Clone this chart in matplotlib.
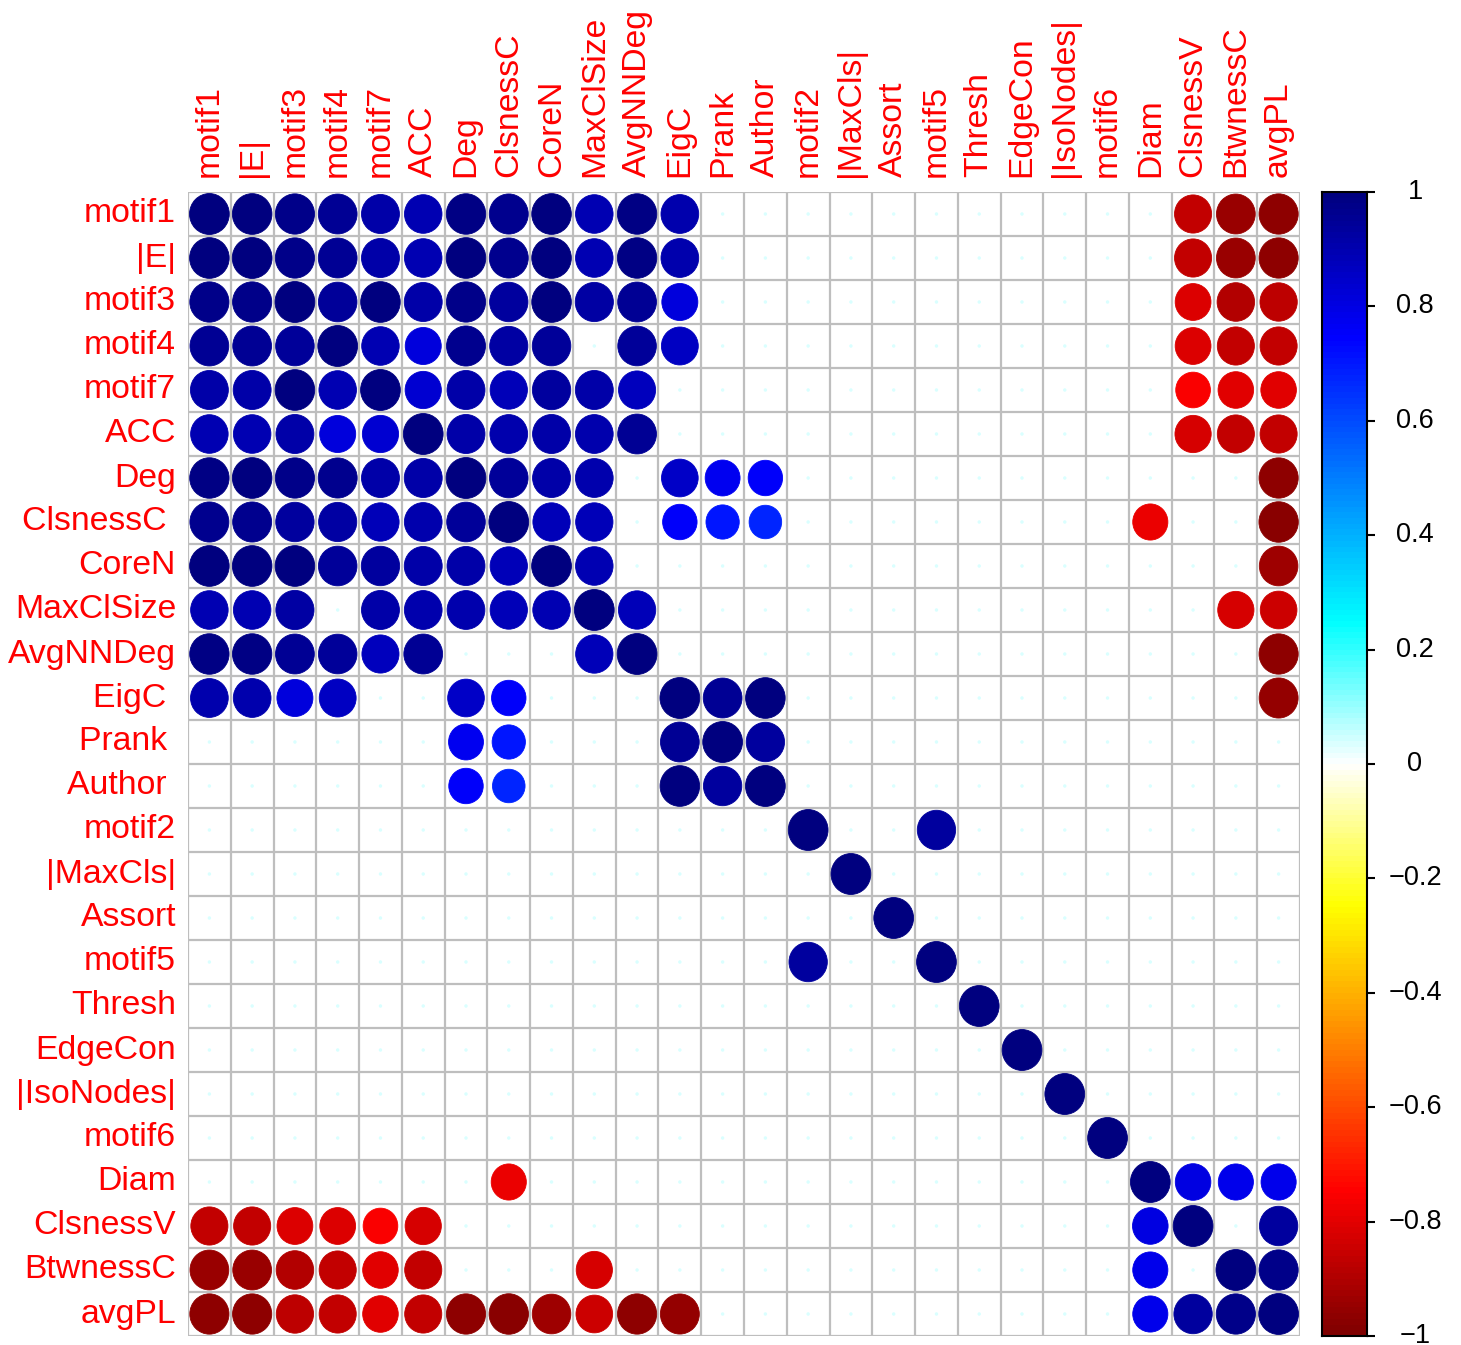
import matplotlib
matplotlib.use("Agg")
import numpy as np
import matplotlib.pyplot as plt
from matplotlib.colors import LinearSegmentedColormap
from matplotlib.patches import Circle
from matplotlib.transforms import offset_copy, blended_transform_factory

plt.rcParams["font.family"] = ["Liberation Sans", "DejaVu Sans"]

labels = ["motif1", "|E|", "motif3", "motif4", "motif7", "ACC", "Deg", "ClsnessC",
          "CoreN", "MaxClSize", "AvgNNDeg", "EigC", "Prank", "Author", "motif2",
          "|MaxCls|", "Assort", "motif5", "Thresh", "EdgeCon", "|IsoNodes|", "motif6",
          "Diam", "ClsnessV", "BtwnessC", "avgPL"]

# row names as printed on the left (some carry a trailing blank)
row_labels = ["motif1", "|E|", "motif3", "motif4", "motif7", "ACC", "Deg", "ClsnessC ",
              "CoreN", "MaxClSize", "AvgNNDeg", "EigC ", "Prank ", "Author ", "motif2",
              "|MaxCls|", "Assort", "motif5", "Thresh", "EdgeCon", "|IsoNodes|", "motif6",
              "Diam", "ClsnessV", "BtwnessC", "avgPL"]

# correlation matrix (rows/columns follow `labels`)
corr = [
    [1.00, 0.99, 0.97, 0.95, 0.91, 0.89, 0.98, 0.96, 0.99, 0.89, 0.98, 0.90, 0, 0, 0, 0, 0, 0, 0, 0, 0, 0, 0, -0.87, -0.95, -0.97],
    [0.99, 1.00, 0.97, 0.95, 0.91, 0.89, 0.99, 0.96, 0.99, 0.89, 0.98, 0.90, 0, 0, 0, 0, 0, 0, 0, 0, 0, 0, 0, -0.87, -0.95, -0.97],
    [0.97, 0.97, 1.00, 0.94, 0.99, 0.91, 0.97, 0.93, 0.99, 0.92, 0.95, 0.82, 0, 0, 0, 0, 0, 0, 0, 0, 0, 0, 0, -0.81, -0.89, -0.88],
    [0.95, 0.95, 0.94, 1.00, 0.89, 0.82, 0.96, 0.92, 0.94, 0, 0.94, 0.86, 0, 0, 0, 0, 0, 0, 0, 0, 0, 0, 0, -0.81, -0.87, -0.87],
    [0.91, 0.91, 0.99, 0.89, 1.00, 0.83, 0.91, 0.88, 0.93, 0.91, 0.87, 0, 0, 0, 0, 0, 0, 0, 0, 0, 0, 0, 0, -0.76, -0.80, -0.80],
    [0.89, 0.89, 0.91, 0.82, 0.83, 1.00, 0.91, 0.90, 0.91, 0.90, 0.95, 0, 0, 0, 0, 0, 0, 0, 0, 0, 0, 0, 0, -0.83, -0.87, -0.87],
    [0.98, 0.99, 0.97, 0.96, 0.91, 0.91, 1.00, 0.94, 0.91, 0.90, 0, 0.85, 0.77, 0.75, 0, 0, 0, 0, 0, 0, 0, 0, 0, 0, 0, -0.97],
    [0.96, 0.96, 0.93, 0.92, 0.88, 0.90, 0.94, 1.00, 0.88, 0.88, 0, 0.75, 0.70, 0.67, 0, 0, 0, 0, 0, 0, 0, 0, -0.78, 0, 0, -0.98],
    [0.99, 0.99, 0.99, 0.94, 0.93, 0.91, 0.91, 0.88, 1.00, 0.89, 0, 0, 0, 0, 0, 0, 0, 0, 0, 0, 0, 0, 0, 0, 0, -0.94],
    [0.89, 0.89, 0.92, 0, 0.91, 0.90, 0.90, 0.88, 0.89, 1.00, 0.88, 0, 0, 0, 0, 0, 0, 0, 0, 0, 0, 0, 0, 0, -0.83, -0.85],
    [0.98, 0.98, 0.95, 0.94, 0.87, 0.95, 0, 0, 0, 0.88, 1.00, 0, 0, 0, 0, 0, 0, 0, 0, 0, 0, 0, 0, 0, 0, -0.97],
    [0.90, 0.90, 0.82, 0.86, 0, 0, 0.85, 0.75, 0, 0, 0, 1.00, 0.95, 0.99, 0, 0, 0, 0, 0, 0, 0, 0, 0, 0, 0, -0.96],
    [0, 0, 0, 0, 0, 0, 0.77, 0.70, 0, 0, 0, 0.95, 1.00, 0.93, 0, 0, 0, 0, 0, 0, 0, 0, 0, 0, 0, 0],
    [0, 0, 0, 0, 0, 0, 0.75, 0.67, 0, 0, 0, 0.99, 0.93, 1.00, 0, 0, 0, 0, 0, 0, 0, 0, 0, 0, 0, 0],
    [0, 0, 0, 0, 0, 0, 0, 0, 0, 0, 0, 0, 0, 0, 1.00, 0, 0, 0.93, 0, 0, 0, 0, 0, 0, 0, 0],
    [0, 0, 0, 0, 0, 0, 0, 0, 0, 0, 0, 0, 0, 0, 0, 1.00, 0, 0, 0, 0, 0, 0, 0, 0, 0, 0],
    [0, 0, 0, 0, 0, 0, 0, 0, 0, 0, 0, 0, 0, 0, 0, 0, 1.00, 0, 0, 0, 0, 0, 0, 0, 0, 0],
    [0, 0, 0, 0, 0, 0, 0, 0, 0, 0, 0, 0, 0, 0, 0.93, 0, 0, 1.00, 0, 0, 0, 0, 0, 0, 0, 0],
    [0, 0, 0, 0, 0, 0, 0, 0, 0, 0, 0, 0, 0, 0, 0, 0, 0, 0, 1.00, 0, 0, 0, 0, 0, 0, 0],
    [0, 0, 0, 0, 0, 0, 0, 0, 0, 0, 0, 0, 0, 0, 0, 0, 0, 0, 0, 1.00, 0, 0, 0, 0, 0, 0],
    [0, 0, 0, 0, 0, 0, 0, 0, 0, 0, 0, 0, 0, 0, 0, 0, 0, 0, 0, 0, 1.00, 0, 0, 0, 0, 0],
    [0, 0, 0, 0, 0, 0, 0, 0, 0, 0, 0, 0, 0, 0, 0, 0, 0, 0, 0, 0, 0, 1.00, 0, 0, 0, 0],
    [0, 0, 0, 0, 0, 0, 0, -0.78, 0, 0, 0, 0, 0, 0, 0, 0, 0, 0, 0, 0, 0, 0, 1.00, 0.80, 0.78, 0.78],
    [-0.87, -0.87, -0.81, -0.81, -0.76, -0.83, 0, 0, 0, 0, 0, 0, 0, 0, 0, 0, 0, 0, 0, 0, 0, 0, 0.80, 1.00, 0, 0.93],
    [-0.95, -0.95, -0.89, -0.87, -0.80, -0.87, 0, 0, 0, -0.83, 0, 0, 0, 0, 0, 0, 0, 0, 0, 0, 0, 0, 0.78, 0, 1.00, 0.97],
    [-0.97, -0.97, -0.88, -0.87, -0.80, -0.87, -0.97, -0.98, -0.94, -0.85, -0.97, -0.96, 0, 0, 0, 0, 0, 0, 0, 0, 0, 0, 0.78, 0.93, 0.97, 1.00],
]

cbar_ticks = [-1.0, -0.8, -0.6, -0.4, -0.2, 0.0, 0.2, 0.4, 0.6, 0.8, 1.0]

ramp = ["#7F0000", "#FF0000", "#FF7F00", "#FFFF00", "#FFFFFF",
        "#00FFFF", "#007FFF", "#0000FF", "#00007F"]
ncol = 200
cmap = LinearSegmentedColormap.from_list("corr_ramp", ramp, N=ncol)
palette = cmap(np.linspace(0, 1, ncol))


def colour_of(v):
    k = int(np.floor((v + 1) / 2 * ncol))
    return palette[min(max(k, 0), ncol - 1)]


W, H = 1461, 1345
fig = plt.figure(figsize=(W / 100, H / 100), dpi=100)
fig.patch.set_facecolor("white")

grid_l, grid_r, grid_t, grid_b = 188, 1300, 192, 1336
ax = fig.add_axes([grid_l / W, (H - grid_b) / H, (grid_r - grid_l) / W, (grid_b - grid_t) / H])
n = len(labels)
ax.set_xlim(0, n)
ax.set_ylim(n, 0)
ax.axis("off")

for k in range(n + 1):
    ax.plot([0, n], [k, k], color="#BEBEBE", lw=1.6, zorder=1, solid_capstyle="projecting")
    ax.plot([k, k], [0, n], color="#BEBEBE", lw=1.6, zorder=1, solid_capstyle="projecting")

mat = np.array(corr, dtype=float)
for i in range(n):
    for j in range(n):
        v = mat[i, j]
        if v == 0:
            ax.add_patch(Circle((j + 0.5, i + 0.5), 0.04, facecolor="#DAFFFF",
                                edgecolor="none", zorder=2))
        else:
            c = colour_of(v)
            ax.add_patch(Circle((j + 0.5, i + 0.5), 0.465 * np.sqrt(abs(v)),
                                facecolor=c, edgecolor=c, lw=0.6, zorder=2))

lab_font = dict(color="#FF0000", fontsize=24.3)
row_tr = offset_copy(ax.transData, fig=fig, x=-12, y=0, units="dots")
col_tr = offset_copy(ax.transData, fig=fig, x=0, y=15, units="dots")
for i, lab in enumerate(row_labels):
    ax.text(0, i + 0.5, lab, ha="right", va="center", transform=row_tr, **lab_font)
for j, lab in enumerate(labels):
    ax.text(j + 0.5, 0, lab, ha="center", va="bottom", rotation=90,
            transform=col_tr, **lab_font)

# colour legend
cax = fig.add_axes([1322 / W, (H - grid_b) / H, 45 / W, (grid_b - grid_t) / H])
grad = np.linspace(-1, 1, ncol).reshape(-1, 1)
cax.imshow(grad, cmap=cmap, vmin=-1, vmax=1, origin="lower", aspect="auto",
           extent=[0, 1, -1, 1], interpolation="nearest")
cax.set_xlim(0, 1)
cax.set_ylim(-1, 1)
cax.set_xticks([])
cax.yaxis.tick_right()
cax.set_yticks(cbar_ticks)
cax.set_yticklabels([])
cax.tick_params(axis="y", length=6, width=1.5, color="black")
for s in cax.spines.values():
    s.set_linewidth(1.5)
    s.set_color("black")

tick_tr = blended_transform_factory(fig.transFigure, cax.transData)
for t in cbar_ticks:
    txt = "0" if t == 0 else ("{:g}".format(t)).replace("-", "\u2212")
    cax.text(1415 / W, t, txt, ha="center", va="center", fontsize=19.5,
             color="black", transform=tick_tr, clip_on=False)

fig.savefig("out.png", dpi=100, facecolor="white")
